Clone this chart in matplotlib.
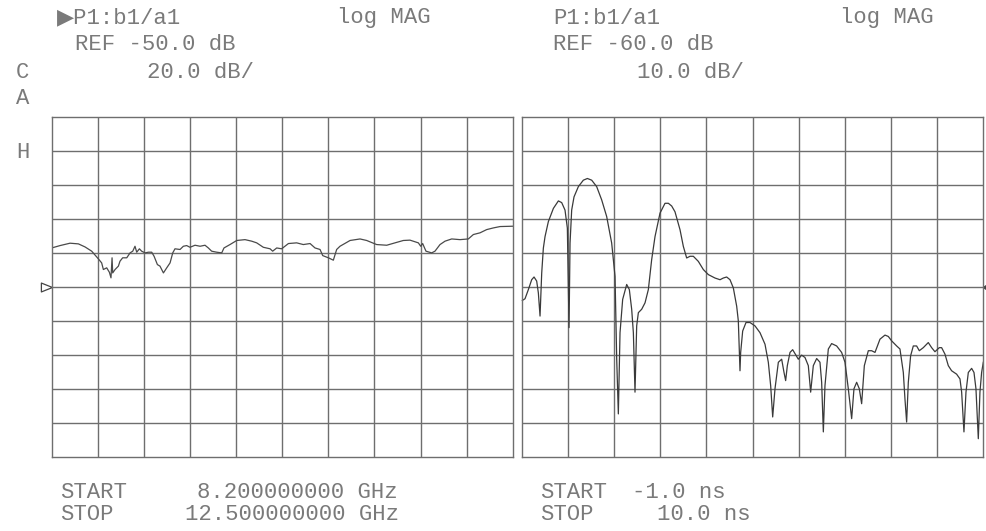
import matplotlib
matplotlib.use("Agg")
import matplotlib.pyplot as plt
from matplotlib.path import Path

# channel 1: frequency domain, b1/a1 log MAG
freq_ghz = [8.200, 8.278, 8.371, 8.449, 8.511, 8.573, 8.635, 8.666, 8.682, 8.713,
            8.738, 8.753, 8.763, 8.769, 8.791, 8.822, 8.837, 8.862, 8.900, 8.931,
            8.956, 8.977, 8.993, 9.018, 9.039, 9.071, 9.102, 9.133, 9.155, 9.186,
            9.210, 9.242, 9.273, 9.304, 9.329, 9.350, 9.397, 9.428, 9.459, 9.490,
            9.537, 9.584, 9.630, 9.661, 9.692, 9.739, 9.786, 9.807, 9.863, 9.926,
            10.003, 10.065, 10.112, 10.174, 10.237, 10.261, 10.299, 10.345, 10.408, 10.485,
            10.547, 10.610, 10.656, 10.703, 10.728, 10.781, 10.827, 10.858, 10.889, 10.983,
            11.076, 11.138, 11.231, 11.325, 11.402, 11.480, 11.542, 11.620, 11.642, 11.660,
            11.691, 11.744, 11.775, 11.822, 11.869, 11.931, 12.009, 12.086, 12.133, 12.195,
            12.257, 12.320, 12.382, 12.500]
mag_freq = [-27.1, -25.7, -24.3, -24.7, -26.5, -29.0, -33.5, -35.9, -39.8, -38.8,
            -41.4, -44.7, -32.9, -41.8, -39.8, -37.8, -34.9, -32.9, -32.9, -30.0,
            -29.0, -26.1, -29.6, -27.6, -29.0, -30.0, -29.6, -29.6, -32.0, -36.9,
            -37.8, -41.8, -38.8, -35.9, -30.0, -27.6, -28.0, -26.1, -25.7, -26.7,
            -25.5, -26.1, -25.5, -27.1, -29.0, -29.6, -30.0, -27.1, -25.1, -22.7,
            -22.2, -23.1, -24.1, -26.7, -27.6, -29.0, -27.1, -27.6, -24.5, -24.1,
            -25.1, -24.5, -27.1, -28.0, -31.6, -32.9, -34.3, -28.0, -26.1, -22.7,
            -21.8, -22.7, -25.1, -25.5, -24.1, -22.7, -22.5, -24.1, -26.1, -24.5,
            -29.0, -30.0, -29.0, -25.1, -23.1, -21.8, -22.2, -21.8, -19.2, -18.2,
            -16.3, -15.3, -14.5, -14.3]

# channel 2: time domain, b1/a1 log MAG
time_ns = [-0.984, -0.921, -0.841, -0.762, -0.706, -0.643, -0.603, -0.563, -0.523, -0.484,
           -0.444, -0.365, -0.245, -0.126, -0.047, 0.032, 0.088, 0.128, 0.152, 0.191,
           0.247, 0.350, 0.469, 0.565, 0.668, 0.787, 0.906, 1.025, 1.144, 1.224,
           1.264, 1.303, 1.343, 1.406, 1.502, 1.565, 1.621, 1.661, 1.700, 1.740,
           1.780, 1.859, 1.939, 2.018, 2.097, 2.177, 2.296, 2.415, 2.495, 2.574,
           2.653, 2.773, 2.852, 2.931, 3.011, 3.090, 3.209, 3.328, 3.448, 3.606,
           3.726, 3.805, 3.884, 3.964, 4.043, 4.123, 4.162, 4.202, 4.218, 4.266,
           4.345, 4.440, 4.560, 4.679, 4.798, 4.877, 4.933, 4.981, 5.036, 5.116,
           5.195, 5.251, 5.290, 5.330, 5.394, 5.457, 5.521, 5.592, 5.671, 5.751,
           5.830, 5.886, 5.949, 6.029, 6.108, 6.148, 6.188, 6.227, 6.307, 6.386,
           6.505, 6.624, 6.704, 6.783, 6.863, 6.918, 6.982, 7.045, 7.101, 7.165,
           7.260, 7.339, 7.419, 7.538, 7.657, 7.736, 7.816, 7.935, 8.014, 8.094,
           8.133, 8.173, 8.213, 8.268, 8.332, 8.411, 8.475, 8.570, 8.689, 8.769,
           8.848, 8.951, 9.007, 9.086, 9.166, 9.245, 9.364, 9.444, 9.484, 9.539,
           9.587, 9.643, 9.722, 9.778, 9.825, 9.881, 9.920, 9.960, 10.000]
mag_time = [-64.0, -63.5, -60.8, -57.9, -57.1, -58.3, -61.8, -68.6, -55.9, -48.6,
            -45.2, -40.8, -36.9, -34.7, -35.2, -37.4, -42.7, -72.0, -47.1, -37.4,
            -33.5, -30.5, -28.6, -28.1, -28.6, -30.5, -34.4, -39.3, -47.1, -56.9,
            -81.3, -97.4, -73.5, -63.7, -59.3, -60.8, -66.6, -73.5, -91.0, -71.5,
            -67.6, -66.6, -64.7, -60.8, -52.0, -45.2, -38.3, -35.4, -35.4, -36.2,
            -37.9, -43.2, -48.1, -51.5, -51.0, -51.0, -52.5, -54.9, -56.4, -57.4,
            -57.9, -57.4, -57.1, -57.9, -60.3, -65.7, -70.0, -84.7, -79.3, -73.0,
            -70.5, -70.5, -71.5, -73.5, -76.9, -82.2, -89.1, -98.3, -90.0, -82.2,
            -81.3, -85.2, -87.6, -83.2, -79.3, -78.5, -79.8, -81.3, -80.1, -80.8,
            -83.2, -91.0, -83.2, -81.1, -82.2, -88.1, -102.7, -89.1, -78.3, -76.7,
            -77.4, -79.3, -82.2, -90.0, -98.8, -90.0, -88.1, -90.0, -94.4, -83.2,
            -78.8, -78.8, -79.3, -75.4, -74.2, -74.6, -75.9, -77.4, -78.3, -85.2,
            -93.0, -99.8, -88.1, -80.3, -77.4, -77.4, -78.8, -77.9, -76.4, -77.9,
            -79.1, -77.9, -77.9, -79.8, -83.2, -84.7, -85.7, -87.1, -91.0, -102.7,
            -91.0, -85.2, -84.0, -85.2, -90.0, -104.7, -91.0, -85.2, -82.2]

ref1, scale1 = -50.0, 20.0
ref2, scale2 = -60.0, 10.0
f_start, f_stop = 8.2, 12.5
t_start, t_stop = -1.0, 10.0

grid_col = "#6e6e6e"
trace_col = "#3a3a3a"
text_col = "#7a7a7a"
mono = ["Liberation Mono", "DejaVu Sans"]

fig = plt.figure(figsize=(9.86, 5.31), dpi=100)
fig.patch.set_facecolor("white")

W, H = 986.0, 531.0
ax1 = fig.add_axes([51.7 / W, 1 - 456.7 / H, 461.0 / W, 339.7 / H])
ax2 = fig.add_axes([521.7 / W, 1 - 456.7 / H, 461.6 / W, 339.7 / H])


def setup(ax, x0, x1, ref, scale):
    ax.set_xlim(x0, x1)
    ax.set_ylim(ref - 5 * scale, ref + 5 * scale)
    for i in range(1, 10):
        ax.axvline(x0 + (x1 - x0) * i / 10, color=grid_col, lw=1)
        ax.axhline(ref - 5 * scale + scale * i, color=grid_col, lw=1)
    for s in ax.spines.values():
        s.set_color(grid_col)
        s.set_linewidth(1)
    ax.set_xticks([])
    ax.set_yticks([])


setup(ax1, f_start, f_stop, ref1, scale1)
setup(ax2, t_start, t_stop, ref2, scale2)

ax1.plot(freq_ghz, mag_freq, color="#4a4a4a", lw=0.9)
ax2.plot(time_ns, mag_time, color=trace_col, lw=0.9, clip_on=False)

# reference position marker (open triangle pointing right, tip on the axis)
tri = Path([(-1.0, 0.4), (0.0, 0.0), (-1.0, -0.4), (-1.0, 0.4)],
           [Path.MOVETO, Path.LINETO, Path.LINETO, Path.CLOSEPOLY])
ax1.plot([f_start], [ref1], marker=tri, markersize=16, markerfacecolor="none",
         markeredgecolor="#444444", markeredgewidth=0.9, clip_on=False)
ax2.plot([t_stop], [ref2], marker=4, markersize=3, color="#444444",
         clip_on=False)


def label(x, y, s):
    fig.text(x / W, 1 - y / H, s, ha="left", va="center", color=text_col,
             fontsize=16, family=mono)


label(57, 18, "\u25b6P1:b1/a1")
label(337, 18, "log MAG")
label(75, 44, "REF -50.0 dB")
label(147, 72, "20.0 dB/")
label(553, 18, "P1:b1/a1")
label(840, 18, "log MAG")
label(553, 44, "REF -60.0 dB")
label(637, 72, "10.0 dB/")
label(16, 72, "C")
label(16, 98, "A")
label(16, 152, "H")

label(60, 492, "START")
label(197, 492, "8.200000000 GHz")
label(60, 515, "STOP")
label(185, 515, "12.500000000 GHz")
label(540, 492, "START")
label(632, 492, "-1.0 ns")
label(540, 515, "STOP")
label(657, 515, "10.0 ns")

fig.savefig("out.png", dpi=100, facecolor="white")
